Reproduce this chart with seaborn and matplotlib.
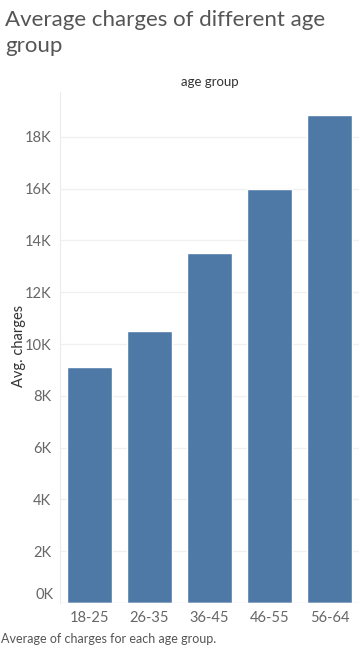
import pandas as pd
import numpy as np
import seaborn as sns
import matplotlib.pyplot as plt
from matplotlib.ticker import FuncFormatter, MultipleLocator, FixedLocator

# data
age_groups = ['18-25', '26-35', '36-45', '46-55', '56-64']
avg_charges = [9100, 10500, 13500, 16000, 18850]

df = pd.DataFrame({'age group': age_groups, 'Avg. charges': avg_charges})

sns.set_style("white")
plt.rcParams['font.family'] = ['Lato', 'DejaVu Sans']

fig = plt.figure(figsize=(3.59, 6.49), dpi=100)
ax = fig.add_axes([59.5/359, 46/649, 300/359, 511/649])

sns.barplot(data=df, x='age group', y='Avg. charges', color='#4e79a7',
            width=0.75, saturation=1, ax=ax)

ax.set_xlim(-0.5, 4.5)
ax.set_ylim(0, 19730)
ax.yaxis.set_major_locator(MultipleLocator(2000))
# 0K is drawn separately, slightly above the baseline
ax.yaxis.set_major_formatter(FuncFormatter(lambda v, p: '' if v == 0 else '%dK' % (v/1000)))
ax.grid(axis='y', color='#f0f0f0', linewidth=1)
ax.set_axisbelow(True)
for s in ['top', 'right', 'bottom']:
    ax.spines[s].set_visible(False)
ax.spines['left'].set_color('#ececec')

ax.tick_params(axis='y', length=0, pad=6, labelsize=10.5, labelcolor='#666666')
ax.tick_params(axis='x', length=0, pad=6, labelsize=10.5, labelcolor='#666666')
ax.xaxis.set_minor_locator(FixedLocator(np.arange(-0.5, 5, 1)))
ax.tick_params(axis='x', which='minor', length=7, color='#ececec', width=1)
ax.axhline(0, color='#ececec', linewidth=1)

ax.text(-6/300, 8/511, '0K', transform=ax.transAxes, fontsize=10.5, color='#666666',
        ha='right', va='center')

ax.set_xlabel('')
ax.set_ylabel('Avg. charges', fontsize=10.5, color='#333333')
ax.yaxis.set_label_coords(-34/300, (603 - 346) / 511)

fig.text(5/359, 1 - 10/649, 'Average charges of different age\ngroup', fontsize=16,
         color='#555555', va='top', ha='left', linespacing=1.35)
fig.text(209.5/359, 1 - 82/649, 'age group', fontsize=9.5, color='#333333',
         ha='center', va='center')
fig.text(1/359, 1 - 639/649, 'Average of charges for each age group.', fontsize=9,
         color='#555555', ha='left', va='center')

plt.savefig('out.png', dpi=100)
